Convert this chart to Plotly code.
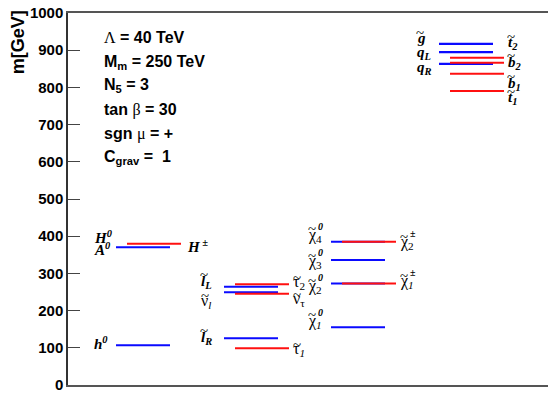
import plotly.graph_objects as go

# Mass spectrum (GeV)
higgs_names = ["h0", "A0/H0"]
higgs_blue = [107, 370]
charged_higgs = [380]                      # H+-

slepton_names = ["l_L", "nu_l", "l_R"]
slepton_blue = [264, 249, 126]
stau_names = ["tau_2", "nu_tau", "tau_1"]
stau_red = [271, 245, 99]

neutralino_names = ["chi0_4", "chi0_3", "chi0_2", "chi0_1"]
neutralino_blue = [385, 336, 273, 155]
chargino_names = ["chi+_2", "chi+_1"]
chargino_red = [385, 273]

squark_names = ["gluino", "q_L", "q_R"]
squark_blue = [917, 895, 863]
third_gen_names = ["t_2", "b_2", "b_1", "t_1"]
third_gen_red = [880, 866, 837, 790]

params = [
    "<span style='font-family:Liberation Serif;font-weight:normal'>Λ</span> = 40 TeV",
    "M<sub>m</sub> = 250 TeV",
    "N<sub>5</sub> = 3",
    "tan <span style='font-family:Liberation Serif;font-weight:normal'>β</span> = 30",
    "sgn <span style='font-family:Liberation Serif;font-weight:normal'>μ</span> = +",
    "C<sub>grav</sub> =  1",
]

BLUE = "#0a0aff"
RED = "#ff1010"
SEG = 54        # length of each level bar
RED_OFF = 11    # red bars are shifted right of the blue ones

fig = go.Figure()


def levels(x0, masses, color, width=2):
    xs, ys = [], []
    for m in masses:
        xs += [x0, x0 + SEG, None]
        ys += [m, m, None]
    fig.add_trace(go.Scatter(x=xs, y=ys, mode="lines", hoverinfo="skip",
                             line=dict(color=color, width=width),
                             showlegend=False))


# column origins on the x scale
COL = [48, 156, 263, 371]

levels(COL[0], higgs_blue, BLUE)
levels(COL[1], slepton_blue, BLUE)
levels(COL[2], neutralino_blue, BLUE)
levels(COL[3], squark_blue, BLUE, width=2.3)
levels(COL[0] + RED_OFF, charged_higgs, RED)
levels(COL[1] + RED_OFF, stau_red, RED)
levels(COL[2] + RED_OFF, chargino_red, RED)
levels(COL[3] + RED_OFF, third_gen_red, RED)

SERIF = "Liberation Serif"
ann = []


def put(x, y, text, size, dx=0, dy=0, style="italic", weight="bold"):
    ann.append(dict(x=x, y=y, xref="x", yref="y", text=text, showarrow=False,
                    xanchor="left", yanchor="middle", xshift=dx, yshift=dy,
                    font=dict(family=SERIF, size=size, color="black",
                              style=style, weight=weight)))


def lab(x, y, text, tilde=None, sup=None, greek=False, size=15):
    """Particle label; tilde=(dx, dy) puts a '~' above the symbol,
    sup=(text, dx, dy) puts a small raised mark next to it."""
    if greek:
        put(x, y, text, size + 1, style="normal", weight="normal")
    else:
        put(x, y, text, size)
    if tilde:
        put(x, y, "~", 15, dx=tilde[0], dy=tilde[1], style="normal",
            weight="normal")
    if sup:
        put(x, y, sup[0], 10, dx=sup[1], dy=sup[2])


# Higgs sector
lab(24, 397, "H<sup>0</sup>")
lab(24, 366, "A<sup>0</sup>")
lab(24, 113, "h<sup>0</sup>")
lab(117, 373, "H<sup> ±</sup>")

# sleptons
lab(131, 277, "l<sub>L</sub>", tilde=(-1, 7))
lab(131, 225, "ν<sub><i>l</i></sub>", tilde=(0, 5), greek=True)
lab(131, 127, "l<sub>R</sub>", tilde=(-1, 7))
lab(223, 275, "τ<sub>2</sub>", tilde=(0, 5), greek=True)
lab(223, 229, "ν<sub>τ</sub>", tilde=(0, 5), greek=True)
lab(223, 95, "τ<sub><i>1</i></sub>", tilde=(0, 5), greek=True)

# neutralinos / charginos
for yy, sub in zip([403, 331, 264, 172], ["4", "3", "2", "<i>1</i>"]):
    lab(238, yy, "χ<sub>" + sub + "</sub>", tilde=(0, 6), sup=("0", 10, 9),
        greek=True)
for yy, sub in zip([383, 277], ["2", "<i>1</i>"]):
    lab(330, yy, "χ<sub>" + sub + "</sub>", tilde=(0, 6), sup=("±", 10, 9),
        greek=True)

# squarks and gluino
lab(347, 933, "g", tilde=(-1, 5))
lab(347, 893, "q<sub>L</sub>")
lab(347, 852, "q<sub>R</sub>")
lab(438, 919, "t<sub>2</sub>", tilde=(-1, 6))
lab(438, 865, "b<sub>2</sub>", tilde=(-1, 7))
lab(438, 808, "b<sub>1</sub>", tilde=(-1, 7))
lab(438, 771, "t<sub>1</sub>", tilde=(-1, 6))

# model parameters
param_y = [933, 867, 804, 739, 676, 612]
for t, yy in zip(params, param_y):
    ann.append(dict(x=34, y=yy, xref="x", yref="y", text=t, showarrow=False,
                    xanchor="left", yanchor="middle",
                    font=dict(family="Liberation Sans", size=16, color="black",
                              weight="bold")))

# axis title
ann.append(dict(x=-0.105, y=0.92, xref="paper", yref="paper", text="m[GeV]",
                showarrow=False, textangle=-90, xanchor="center", yanchor="middle",
                font=dict(family="Liberation Sans", size=18, color="black",
                          weight="bold")))

fig.update_layout(
    width=548, height=393,
    margin=dict(l=68, r=0, t=13, b=8),
    paper_bgcolor="white", plot_bgcolor="white",
    annotations=ann,
    xaxis=dict(range=[0, 480], showticklabels=False, ticks="", showgrid=False,
               zeroline=False, showline=True, mirror=True, linecolor="#555",
               linewidth=1.5),
    yaxis=dict(range=[0, 1000], dtick=100, ticks="inside", ticklen=12,
               tickwidth=1.2, tickcolor="#444", showgrid=False, zeroline=False,
               showline=True, linecolor="#333", linewidth=1.5,
               ticklabeloverflow="allow",
               tickfont=dict(family="Liberation Sans", size=15, color="black",
                             weight="bold")),
)

fig.write_html("out.html")
